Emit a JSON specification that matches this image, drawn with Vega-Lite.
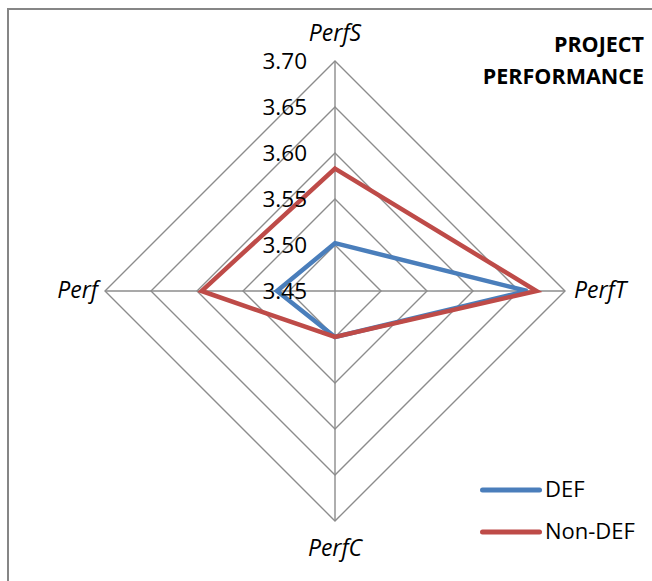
{
  "$schema": "https://vega.github.io/schema/vega-lite/v6.json",
  "width": 648,
  "height": 576,
  "autosize": "none",
  "padding": {"left": 8, "top": 9, "right": -4, "bottom": -4},
  "config": {
    "font": "Open Sans",
    "view": {"stroke": "#868686", "strokeWidth": 2}
  },
  "title": {
    "text": ["PROJECT", "PERFORMANCE"],
    "anchor": "end",
    "frame": "group",
    "orient": "top",
    "offset": 0,
    "dy": 79,
    "dx": -12,
    "font": "Open Sans",
    "fontSize": 21.5,
    "fontWeight": "bold",
    "color": "#000000",
    "lineHeight": 32
  },
  "datasets": {
    "series": [
      {"series": "DEF", "axis": "PerfS", "value": 3.502},
      {"series": "DEF", "axis": "PerfT", "value": 3.659},
      {"series": "DEF", "axis": "PerfC", "value": 3.50},
      {"series": "DEF", "axis": "Perf", "value": 3.513},
      {"series": "Non-DEF", "axis": "PerfS", "value": 3.583},
      {"series": "Non-DEF", "axis": "PerfT", "value": 3.669},
      {"series": "Non-DEF", "axis": "PerfC", "value": 3.50},
      {"series": "Non-DEF", "axis": "Perf", "value": 3.595}
    ],
    "rings": [
      {"level": 3.50, "axis": "PerfS"}, {"level": 3.50, "axis": "PerfT"}, {"level": 3.50, "axis": "PerfC"}, {"level": 3.50, "axis": "Perf"},
      {"level": 3.55, "axis": "PerfS"}, {"level": 3.55, "axis": "PerfT"}, {"level": 3.55, "axis": "PerfC"}, {"level": 3.55, "axis": "Perf"},
      {"level": 3.60, "axis": "PerfS"}, {"level": 3.60, "axis": "PerfT"}, {"level": 3.60, "axis": "PerfC"}, {"level": 3.60, "axis": "Perf"},
      {"level": 3.65, "axis": "PerfS"}, {"level": 3.65, "axis": "PerfT"}, {"level": 3.65, "axis": "PerfC"}, {"level": 3.65, "axis": "Perf"},
      {"level": 3.70, "axis": "PerfS"}, {"level": 3.70, "axis": "PerfT"}, {"level": 3.70, "axis": "PerfC"}, {"level": 3.70, "axis": "Perf"}
    ],
    "axes": [
      {"axis": "PerfS", "level": 3.70},
      {"axis": "PerfT", "level": 3.70},
      {"axis": "PerfC", "level": 3.70},
      {"axis": "Perf", "level": 3.70}
    ],
    "ticks": [
      {"level": 3.45}, {"level": 3.50}, {"level": 3.55}, {"level": 3.60}, {"level": 3.65}, {"level": 3.70}
    ]
  },
  "layer": [
    {
      "data": {"name": "rings"},
      "transform": [
        {"calculate": "datum.axis == 'PerfT' ? datum.level - 3.45 : datum.axis == 'Perf' ? 3.45 - datum.level : 0", "as": "x"},
        {"calculate": "datum.axis == 'PerfS' ? datum.level - 3.45 : datum.axis == 'PerfC' ? 3.45 - datum.level : 0", "as": "y"},
        {"calculate": "indexof(['PerfS','PerfT','PerfC','Perf'], datum.axis)", "as": "idx"}
      ],
      "mark": {"type": "line", "interpolate": "linear-closed", "color": "#8c8c8c", "strokeWidth": 1.4},
      "encoding": {
        "x": {"field": "x", "type": "quantitative", "scale": {"domain": [-0.355435, 0.348913], "nice": false, "zero": false}, "axis": null},
        "y": {"field": "y", "type": "quantitative", "scale": {"domain": [-0.319565, 0.306522], "nice": false, "zero": false}, "axis": null},
        "detail": {"field": "level", "type": "nominal"},
        "order": {"field": "idx", "type": "quantitative"}
      }
    },
    {
      "data": {"name": "axes"},
      "transform": [
        {"calculate": "datum.axis == 'PerfT' ? datum.level - 3.45 : datum.axis == 'Perf' ? 3.45 - datum.level : 0", "as": "x"},
        {"calculate": "datum.axis == 'PerfS' ? datum.level - 3.45 : datum.axis == 'PerfC' ? 3.45 - datum.level : 0", "as": "y"}
      ],
      "mark": {"type": "rule", "color": "#8c8c8c", "strokeWidth": 1.4},
      "encoding": {
        "x": {"field": "x", "type": "quantitative"},
        "y": {"field": "y", "type": "quantitative"},
        "x2": {"datum": 0},
        "y2": {"datum": 0}
      }
    },
    {
      "data": {"name": "series"},
      "transform": [
        {"calculate": "datum.axis == 'PerfT' ? datum.value - 3.45 : datum.axis == 'Perf' ? 3.45 - datum.value : 0", "as": "x"},
        {"calculate": "datum.axis == 'PerfS' ? datum.value - 3.45 : datum.axis == 'PerfC' ? 3.45 - datum.value : 0", "as": "y"},
        {"calculate": "indexof(['PerfS','PerfT','PerfC','Perf'], datum.axis)", "as": "idx"}
      ],
      "mark": {"type": "line", "interpolate": "linear-closed", "strokeWidth": 4.5},
      "encoding": {
        "x": {"field": "x", "type": "quantitative"},
        "y": {"field": "y", "type": "quantitative"},
        "order": {"field": "idx", "type": "quantitative"},
        "color": {
          "field": "series",
          "type": "nominal",
          "scale": {"domain": ["DEF", "Non-DEF"], "range": ["#4a7ebb", "#be4b48"]},
          "legend": {
            "orient": "none",
            "legendX": 472,
            "legendY": 450,
            "title": null,
            "padding": 0,
            "symbolType": "stroke",
            "symbolSize": 3249,
            "symbolStrokeWidth": 5,
            "rowPadding": -23,
            "labelOffset": 3,
            "labelFont": "Open Sans",
            "labelFontSize": 22,
            "labelColor": "#000000",
            "encode": {"symbols": {"update": {"strokeCap": {"value": "round"}}}}
          }
        }
      }
    },
    {
      "data": {"name": "ticks"},
      "transform": [
        {"calculate": "datum.level - 3.45", "as": "y"}
      ],
      "mark": {"type": "text", "align": "right", "baseline": "middle", "dx": -28, "dy": 1, "fontSize": 22.5, "color": "#000000"},
      "encoding": {
        "x": {"datum": 0},
        "y": {"field": "y", "type": "quantitative"},
        "text": {"field": "level", "type": "quantitative", "format": ".2f"}
      }
    },
    {
      "data": {"name": "axes"},
      "transform": [
        {"filter": "datum.axis == 'PerfS'"},
        {"calculate": "datum.level - 3.45", "as": "y"}
      ],
      "mark": {"type": "text", "align": "center", "baseline": "middle", "dy": -27, "fontSize": 23, "fontStyle": "italic", "color": "#000000"},
      "encoding": {
        "x": {"datum": 0},
        "y": {"field": "y", "type": "quantitative"},
        "text": {"field": "axis", "type": "nominal"}
      }
    },
    {
      "data": {"name": "axes"},
      "transform": [
        {"filter": "datum.axis == 'PerfC'"},
        {"calculate": "3.45 - datum.level", "as": "y"}
      ],
      "mark": {"type": "text", "align": "center", "baseline": "middle", "dy": 28, "fontSize": 23, "fontStyle": "italic", "color": "#000000"},
      "encoding": {
        "x": {"datum": 0},
        "y": {"field": "y", "type": "quantitative"},
        "text": {"field": "axis", "type": "nominal"}
      }
    },
    {
      "data": {"name": "axes"},
      "transform": [
        {"filter": "datum.axis == 'PerfT'"},
        {"calculate": "datum.level - 3.45", "as": "x"}
      ],
      "mark": {"type": "text", "align": "left", "baseline": "middle", "dx": 9, "fontSize": 23, "fontStyle": "italic", "color": "#000000"},
      "encoding": {
        "x": {"field": "x", "type": "quantitative"},
        "y": {"datum": 0},
        "text": {"field": "axis", "type": "nominal"}
      }
    },
    {
      "data": {"name": "axes"},
      "transform": [
        {"filter": "datum.axis == 'Perf'"},
        {"calculate": "3.45 - datum.level", "as": "x"}
      ],
      "mark": {"type": "text", "align": "right", "baseline": "middle", "dx": -7, "fontSize": 23, "fontStyle": "italic", "color": "#000000"},
      "encoding": {
        "x": {"field": "x", "type": "quantitative"},
        "y": {"datum": 0},
        "text": {"field": "axis", "type": "nominal"}
      }
    }
  ]
}
